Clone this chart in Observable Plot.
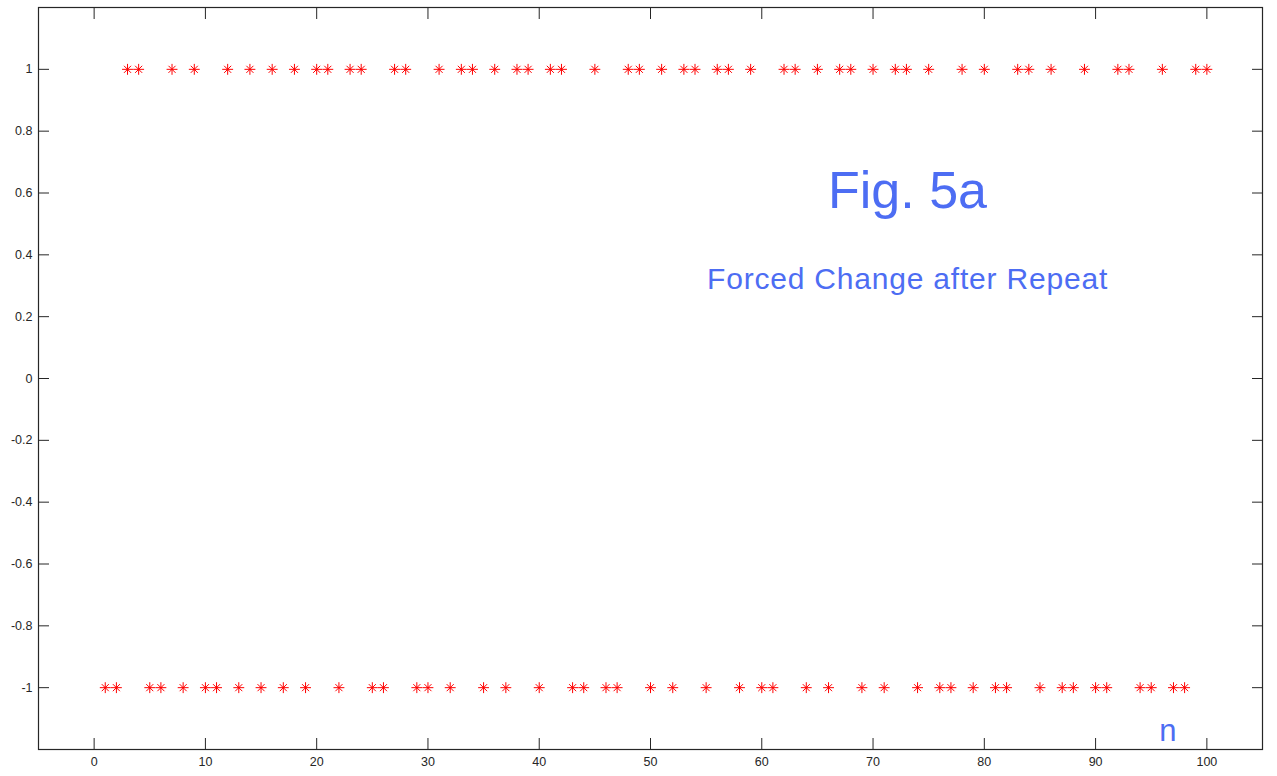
<!DOCTYPE html>
<html>
<head>
<meta charset="utf-8">
<script src="https://cdn.jsdelivr.net/npm/d3@7"></script>
<script src="https://cdn.jsdelivr.net/npm/@observablehq/plot@0.6"></script>
<style>
  html, body { margin: 0; padding: 0; background: #fff; overflow: hidden; }
</style>
</head>
<body>
<div id="chart"></div>
<script>
// Sequence values s[n], n = 1..100 (±1)
const signal = [
  -1,-1, 1, 1,-1,-1, 1,-1, 1,-1,
  -1, 1,-1, 1,-1, 1,-1, 1,-1, 1,
   1,-1, 1, 1,-1,-1, 1, 1,-1,-1,
   1,-1, 1, 1,-1, 1,-1, 1, 1,-1,
   1, 1,-1,-1, 1,-1,-1, 1, 1,-1,
   1,-1, 1, 1,-1, 1, 1,-1, 1,-1,
  -1, 1, 1,-1, 1,-1, 1, 1,-1, 1,
  -1, 1, 1,-1, 1,-1,-1, 1,-1, 1,
  -1,-1, 1, 1,-1, 1,-1,-1, 1,-1,
  -1, 1, 1,-1,-1, 1,-1,-1, 1, 1
];

const xTicks = [0, 10, 20, 30, 40, 50, 60, 70, 80, 90, 100];
const yTicks = [-1, -0.8, -0.6, -0.4, -0.2, 0, 0.2, 0.4, 0.6, 0.8, 1];
const xDomain = [-5, 105];
const yDomain = [-1.2, 1.2];

const titleText = "Fig. 5a";
const subtitleText = "Forced Change after Repeat";
const axisName = "n";

const annotations = [
  {x: 73.1, y: 0.553, text: titleText, size: 52},
  {x: 73.1, y: 0.291, text: subtitleText, size: 30},
  {x: 96.5, y: -1.171, text: axisName, size: 31}
];

const points = signal.map((v, i) => ({n: i + 1, v}));
const fmt = d => String(+d.toFixed(1));
const axisColor = "#262626";
const markColor = "#ff0000";
const textBlue = "#4d6df3";

const chart = Plot.plot({
  width: 1277,
  height: 776,
  marginLeft: 38,
  marginRight: 15,
  marginTop: 7,
  marginBottom: 27,
  style: {fontFamily: "'Liberation Sans', Arial, sans-serif", fontSize: "12.5px", background: "#fff", color: axisColor},
  x: {domain: xDomain},
  y: {domain: yDomain},
  marks: [
    Plot.frame({stroke: axisColor, strokeWidth: 1.2}),
    // inward ticks on all four sides
    Plot.axisX(xTicks, {anchor: "bottom", tickSize: -11, tickFormat: () => "", label: null, stroke: axisColor}),
    Plot.axisX(xTicks, {anchor: "top", tickSize: -11, tickFormat: () => "", label: null, stroke: axisColor}),
    Plot.axisY(yTicks, {anchor: "left", tickSize: -11, tickFormat: () => "", label: null, stroke: axisColor}),
    Plot.axisY(yTicks, {anchor: "right", tickSize: -11, tickFormat: () => "", label: null, stroke: axisColor}),
    // tick labels
    Plot.axisX(xTicks, {anchor: "bottom", tickSize: 0, tickPadding: 8, tickFormat: fmt, label: null, fill: axisColor}),
    Plot.axisY(yTicks, {anchor: "left", tickSize: 0, tickPadding: 6, tickFormat: fmt, label: null, fill: axisColor}),
    // asterisk markers: plus + times
    Plot.dot(points, {x: "n", y: "v", symbol: "plus", r: 3.6, stroke: markColor, strokeWidth: 1}),
    Plot.dot(points, {x: "n", y: "v", symbol: "times", r: 3.3, stroke: markColor, strokeWidth: 1}),
    Plot.text(annotations, {x: "x", y: "y", text: "text", fontSize: "size", lineAnchor: "bottom", textAnchor: "middle", fill: textBlue})
  ]
});

d3.select(chart).selectAll("text")
  .filter(function() { return this.textContent === subtitleText; })
  .style("letter-spacing", "0.8px");

document.getElementById("chart").appendChild(chart);
</script>
</body>
</html>
